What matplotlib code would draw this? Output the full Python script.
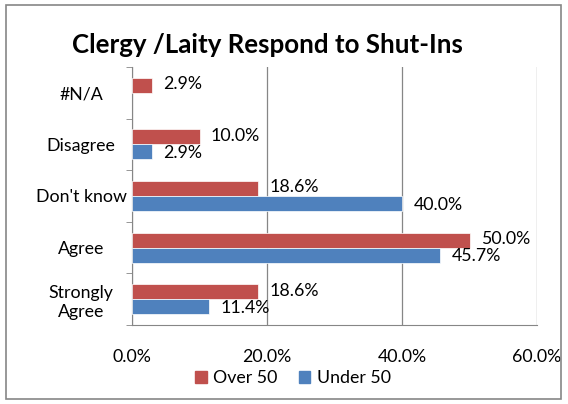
import matplotlib
matplotlib.use("Agg")
import matplotlib.pyplot as plt
from matplotlib.patches import Rectangle
import numpy as np

categories = ["Strongly\nAgree", "Agree", "Don't know", "Disagree", "#N/A"]
over50 = [18.6, 50.0, 18.6, 10.0, 2.9]
under50 = [11.4, 45.7, 40.0, 2.9, None]
xticks = [0, 20, 40, 60]
xticklabels = ["0.0%", "20.0%", "40.0%", "60.0%"]
title = "Clergy /Laity Respond to Shut-Ins"

red = "#C0504D"
blue = "#4F81BD"
font = "Lato"
fs = 12.8

fig = plt.figure(figsize=(5.68, 4.04), dpi=100)
W, H = 568, 404
ax = fig.add_axes([132 / W, 1 - 325 / H, (537 - 132) / W, (325 - 67) / H])

y = np.arange(len(categories))
h = 0.29
for i in range(len(categories)):
    ov = over50[i]
    un = under50[i]
    if ov is not None:
        ax.barh(y[i] + h / 2, ov, height=h, color=red, edgecolor="white", linewidth=0.5, zorder=3)
        ax.text(ov + 1.7, y[i] + h / 2 + 0.02, f"{ov:.1f}%", va="center", ha="left",
                fontsize=fs, family=font, zorder=4)
    if un is not None:
        ax.barh(y[i] - h / 2, un, height=h, color=blue, edgecolor="white", linewidth=0.5, zorder=3)
        ax.text(un + 1.7, y[i] - h / 2 - 0.02, f"{un:.1f}%", va="center", ha="left",
                fontsize=fs, family=font, zorder=4)

ax.set_xlim(0, 60)
ax.set_ylim(-0.5, len(categories) - 0.5)
ax.set_xticks(xticks)
ax.set_xticklabels(xticklabels, family=font, fontsize=fs)
ax.set_yticks(y)
ax.set_yticklabels(categories, family=font, fontsize=fs, linespacing=1.25, ha="center")
ax.tick_params(axis="y", length=0, pad=36.7)
ax.tick_params(axis="x", length=0, pad=17)
# category separator ticks on y axis
ax.set_yticks(np.arange(-0.5, len(categories), 1), minor=True)
ax.tick_params(axis="y", which="minor", length=4, color="#868686", direction="out")
ax.set_xticks(xticks, minor=True)
ax.tick_params(axis="x", which="minor", length=4, color="#868686", direction="out")

ax.grid(axis="x", color="#868686", linewidth=0.9, zorder=0)
for s in ["top", "right"]:
    ax.spines[s].set_visible(False)
ax.spines["left"].set_color("#868686")
ax.spines["bottom"].set_color("#868686")

fig.text(267 / W, 1 - 45 / H, title, ha="center", va="center", fontsize=18.6,
         fontweight="bold", family=font)

handles = [Rectangle((0, 0), 1, 1, color=red), Rectangle((0, 0), 1, 1, color=blue)]
fig.legend(handles, ["Over 50", "Under 50"], loc="center", bbox_to_anchor=(293 / W, 1 - 378 / H),
           ncol=2, frameon=False, prop={"family": font, "size": fs},
           handlelength=0.65, handleheight=0.65, handletextpad=0.35, columnspacing=1.2)

fig.patches.append(Rectangle((6 / W, 5 / H), (561 - 6) / W, (399 - 5) / H, transform=fig.transFigure,
                             fill=False, edgecolor="#868686", linewidth=1.2))

fig.savefig("out.png", dpi=100)
